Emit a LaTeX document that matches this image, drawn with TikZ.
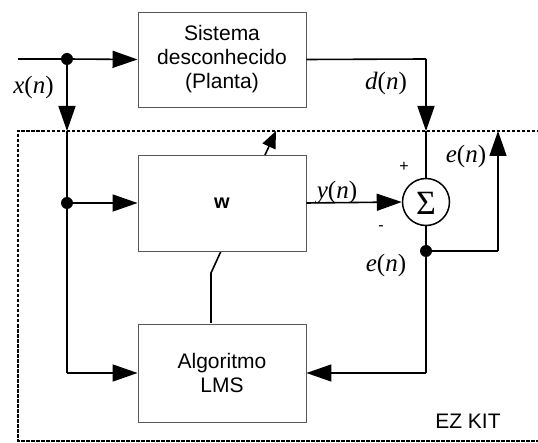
\documentclass[tikz,border=0pt]{standalone}
\usepackage{fontspec}
\setmainfont{Liberation Sans}
\newfontfamily\tms{Liberation Serif}
\usetikzlibrary{arrows.meta}
\newcommand\sig[1]{{\tms\fontsize{25}{25}\selectfont\textit{#1}(\textit{n})}}
\tikzset{
  blk/.style={draw=black!65, line width=0.9pt, fill=white, inner sep=0pt, align=center,
     font=\fontsize{21}{24}\selectfont},
  wire/.style={line width=1.6pt, black},
  arr/.style={wire, -{Triangle[length=25pt,width=17pt]}},
  smallarr/.style={wire, -{Triangle[length=17pt,width=14pt]}},
  dot/.style={circle, fill=black, inner sep=0pt, minimum size=12pt},
  lbl/.style={inner sep=0pt},
  kit/.style={line width=2.1pt, dash pattern=on 3.5pt off 1.5pt},
}
\begin{document}
\begin{tikzpicture}[x=1pt,y=-1pt]
\useasboundingbox (0,0) rectangle (538,443);
% dashed EZ KIT border
\draw[kit] (545,131) -- (18,131) -- (18,441) -- (545,441);
% diagonal adaptation arrow (behind W)
\coordinate (dgA) at (211,273);
\coordinate (dgB) at (276,131);
\draw[smallarr] (dgA) -- (dgB);
% blocks
\node[blk, minimum width=168pt, minimum height=95pt] (plant) at (222,59.5) {Sistema\\desconhecido\\(Planta)};
\node[blk, minimum width=168pt, minimum height=96pt, font=\fontsize{20}{24}\selectfont\bfseries] (w) at (222,203) {w};
\node[blk, minimum width=168pt, minimum height=98pt] (lms) at (222,373) {Algoritmo\\LMS};
\node[draw, line width=1.5pt, circle, minimum size=47pt, inner sep=0pt] (sum) at (426,202) {};
\node[lbl, font=\tms\fontsize{34}{34}\selectfont] at (426,203) {Σ};
% junctions
\node[dot] (j1) at (67,59) {};
\node[dot] (j2) at (67,203) {};
\node[dot] (j3) at (426,251) {};
\coordinate (in) at (18,59);
\coordinate (xdn) at (67,131);
\coordinate (xbot) at (67,373);
\coordinate (dcorner) at (426,59);
\coordinate (ddn) at (426,131);
\coordinate (ecorner) at (498,251);
\coordinate (eup) at (498,131);
\coordinate (ebot) at (426,373);
\coordinate (dgC) at (211,323);
% wires
\draw[wire] (in) -- (j1);
\draw[arr] (j1) -- (plant.west);
\draw[arr] (j1) -- (xdn);
\draw[wire] (xdn) -- (xbot);
\draw[arr] (xbot) -- (lms.west);
\draw[arr] (j2) -- (w.west);
\draw[wire] (plant.east) -- (dcorner);
\draw[arr] (dcorner) -- (ddn);
\draw[wire] (ddn) -- (sum.north);
\draw[arr] (w.east) -- (sum.west);
\draw[wire] (sum.south) -- (j3);
\draw[wire] (j3) -- (ecorner);
\draw[arr] (ecorner) -- (eup);
\draw[wire] (j3) -- (ebot);
\draw[arr] (ebot) -- (lms.east);
\draw[wire] (dgA) -- (dgC);
\fill (dgA) circle (0.8pt);
% labels
\node[lbl] (lx) at (33.5,87) {\sig{x}};
\node[lbl] (ld) at (386,83) {\sig{d}};
\node[lbl] (ly) at (337,193) {\sig{y}};
\node[lbl] (le1) at (466,156) {\sig{e}};
\node[lbl] (le2) at (386,265) {\sig{e}};
\node[lbl, font=\fontsize{16}{16}\selectfont] (lp) at (404,167) {+};
\node[lbl, font=\fontsize{16}{16}\selectfont] (lm) at (381,228) {-};
\node[lbl, font=\fontsize{21}{24}\selectfont] (ez) at (468,421) {EZ KIT};
\end{tikzpicture}
\end{document}
